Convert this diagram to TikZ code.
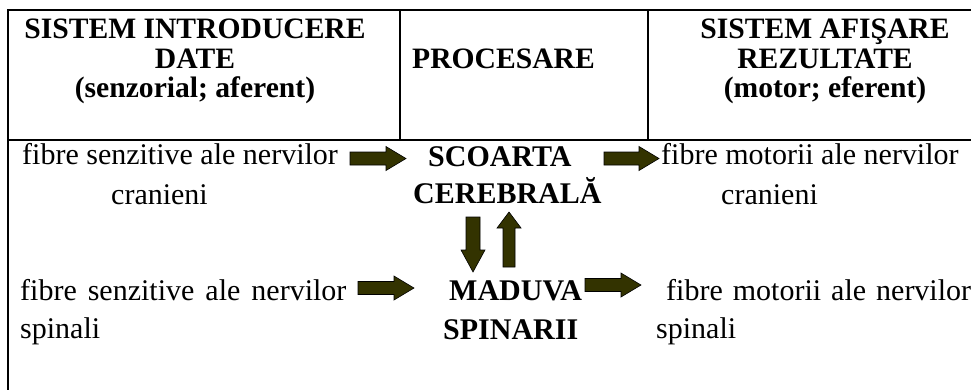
\documentclass[tikz,border=0pt]{standalone}
\usepackage{fontspec}
\setmainfont{Liberation Serif}
\definecolor{arrfill}{RGB}{51,51,0}
\tikzset{
  frame/.style={line width=2.6pt, line cap=rect},
  hdr/.style={font=\fontsize{29.6}{30}\selectfont\bfseries, inner sep=0pt, anchor=base},
  txt/.style={font=\fontsize{30}{33}\selectfont, inner sep=0pt, anchor=base west},
  btxt/.style={font=\fontsize{30}{33}\selectfont\bfseries, inner sep=0pt, anchor=base west},
  blockarr/.style={fill=arrfill, draw=black, line width=0.6pt, line join=miter}
}
\newcommand{\rightblock}[3]{%
  \draw[blockarr] (#1,#3-6.5) -- (#2-20,#3-6.5) -- (#2-20,#3-12) -- (#2,#3) -- (#2-20,#3+12) -- (#2-20,#3+6.5) -- (#1,#3+6.5) -- cycle;}
\begin{document}
\begin{tikzpicture}[x=1pt,y=-1pt]
\useasboundingbox (0,0) rectangle (971,389);
\clip (0,0) rectangle (971,389);
% frame lines
\coordinate (tl) at (8,10);
\coordinate (tr) at (975,10);
\coordinate (bl) at (8,395);
\coordinate (ml) at (8,140);
\coordinate (mr) at (975,140);
\coordinate (c1t) at (400,10);
\coordinate (c1b) at (400,140);
\coordinate (c2t) at (648,10);
\coordinate (c2b) at (648,140);
\draw[frame] (tl) -- (tr);
\draw[frame] (tl) -- (bl);
\draw[frame] (ml) -- (mr);
\draw[frame] (c1t) -- (c1b);
\draw[frame] (c2t) -- (c2b);
% headers
\node[hdr] (h1a) at (195,38) {SISTEM INTRODUCERE};
\node[hdr] (h1b) at (195,68) {DATE};
\node[hdr] (h1c) at (195,97) {(senzorial; aferent)};
\node[hdr, anchor=base west] (h2) at (412,68) {PROCESARE};
\node[hdr] (h3a) at (825,38) {SISTEM AFIŞARE};
\node[hdr] (h3b) at (825,68) {REZULTATE};
\node[hdr] (h3c) at (825,97) {(motor; eferent)};
% row 1
\node[txt] (l1a) at (22,164) {fibre senzitive ale nervilor};
\node[txt] (l1b) at (111,204) {cranieni};
\node[btxt] (s1a) at (428,166) {SCOARTA};
\node[btxt] (s1b) at (413,203) {CEREBRALĂ};
\node[txt] (r1a) at (661,164) {fibre motorii ale nervilor};
\node[txt] (r1b) at (721,204) {cranieni};
% row 2
\node[txt] (l2a) at (20,300) {fibre\hspace{11pt}senzitive\hspace{11pt}ale\hspace{11pt}nervilor};
\node[txt] (l2b) at (20,338) {spinali};
\node[btxt] (s2a) at (449,300) {MADUVA};
\node[btxt] (s2b) at (443,339) {SPINARII};
\node[txt] (r2a) at (666,300) {fibre\hspace{10pt}motorii\hspace{10pt}ale\hspace{10pt}nervilor};
\node[txt] (r2b) at (656,338) {spinali};
% horizontal block arrows
\rightblock{350}{406}{158.5}
\rightblock{604}{659}{158.5}
\rightblock{358}{414}{288}
\rightblock{585}{641}{285}
% vertical block arrows
\draw[blockarr] (466,217) -- (480,217) -- (480,250) -- (485,250) -- (473,272) -- (461,250) -- (466,250) -- cycle;
\draw[blockarr] (503,267) -- (515,267) -- (515,228) -- (521,228) -- (509,212) -- (497,228) -- (503,228) -- cycle;
\end{tikzpicture}
\end{document}
